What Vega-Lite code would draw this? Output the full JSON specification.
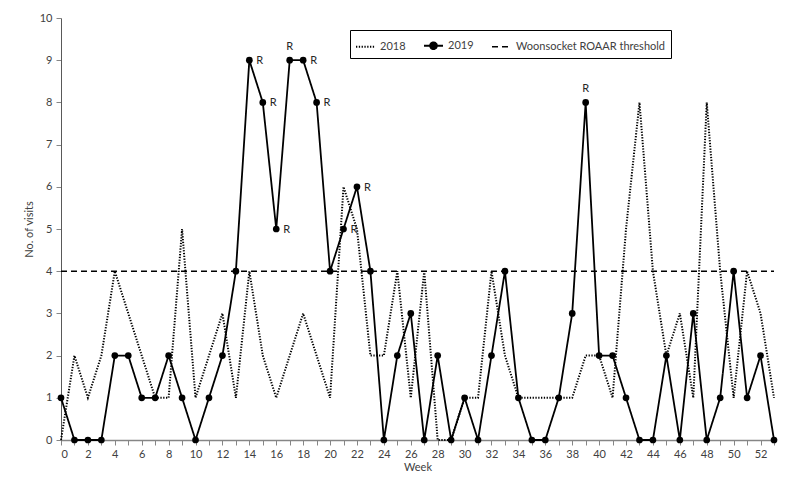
{
  "$schema": "https://vega.github.io/schema/vega-lite/v6.json",
  "width": 713,
  "height": 422,
  "autosize": "none",
  "padding": {"left": 61, "top": 18, "right": 13, "bottom": 57},
  "background": "white",
  "config": {
    "view": {"stroke": null},
    "font": "Lato",
    "axis": {"labelFont": "Lato", "titleFont": "Lato", "labelFontSize": 11, "titleFontSize": 11, "labelColor": "#404040", "titleColor": "#404040", "titleFontWeight": "normal", "grid": false, "domainColor": "#868686", "tickColor": "#868686", "tickSize": 5}
  },
  "data": {
    "values": [
      {"week": 0, "series": "2018", "visits": 0},
      {"week": 1, "series": "2018", "visits": 2},
      {"week": 2, "series": "2018", "visits": 1},
      {"week": 3, "series": "2018", "visits": 2},
      {"week": 4, "series": "2018", "visits": 4},
      {"week": 5, "series": "2018", "visits": 3},
      {"week": 6, "series": "2018", "visits": 2},
      {"week": 7, "series": "2018", "visits": 1},
      {"week": 8, "series": "2018", "visits": 1},
      {"week": 9, "series": "2018", "visits": 5},
      {"week": 10, "series": "2018", "visits": 1},
      {"week": 11, "series": "2018", "visits": 2},
      {"week": 12, "series": "2018", "visits": 3},
      {"week": 13, "series": "2018", "visits": 1},
      {"week": 14, "series": "2018", "visits": 4},
      {"week": 15, "series": "2018", "visits": 2},
      {"week": 16, "series": "2018", "visits": 1},
      {"week": 17, "series": "2018", "visits": 2},
      {"week": 18, "series": "2018", "visits": 3},
      {"week": 19, "series": "2018", "visits": 2},
      {"week": 20, "series": "2018", "visits": 1},
      {"week": 21, "series": "2018", "visits": 6},
      {"week": 22, "series": "2018", "visits": 5},
      {"week": 23, "series": "2018", "visits": 2},
      {"week": 24, "series": "2018", "visits": 2},
      {"week": 25, "series": "2018", "visits": 4},
      {"week": 26, "series": "2018", "visits": 1},
      {"week": 27, "series": "2018", "visits": 4},
      {"week": 28, "series": "2018", "visits": 0},
      {"week": 29, "series": "2018", "visits": 0},
      {"week": 30, "series": "2018", "visits": 1},
      {"week": 31, "series": "2018", "visits": 1},
      {"week": 32, "series": "2018", "visits": 4},
      {"week": 33, "series": "2018", "visits": 2},
      {"week": 34, "series": "2018", "visits": 1},
      {"week": 35, "series": "2018", "visits": 1},
      {"week": 36, "series": "2018", "visits": 1},
      {"week": 37, "series": "2018", "visits": 1},
      {"week": 38, "series": "2018", "visits": 1},
      {"week": 39, "series": "2018", "visits": 2},
      {"week": 40, "series": "2018", "visits": 2},
      {"week": 41, "series": "2018", "visits": 1},
      {"week": 42, "series": "2018", "visits": 5},
      {"week": 43, "series": "2018", "visits": 8},
      {"week": 44, "series": "2018", "visits": 4},
      {"week": 45, "series": "2018", "visits": 2},
      {"week": 46, "series": "2018", "visits": 3},
      {"week": 47, "series": "2018", "visits": 1},
      {"week": 48, "series": "2018", "visits": 8},
      {"week": 49, "series": "2018", "visits": 4},
      {"week": 50, "series": "2018", "visits": 1},
      {"week": 51, "series": "2018", "visits": 4},
      {"week": 52, "series": "2018", "visits": 3},
      {"week": 53, "series": "2018", "visits": 1},
      {"week": 0, "series": "2019", "visits": 1},
      {"week": 1, "series": "2019", "visits": 0},
      {"week": 2, "series": "2019", "visits": 0},
      {"week": 3, "series": "2019", "visits": 0},
      {"week": 4, "series": "2019", "visits": 2},
      {"week": 5, "series": "2019", "visits": 2},
      {"week": 6, "series": "2019", "visits": 1},
      {"week": 7, "series": "2019", "visits": 1},
      {"week": 8, "series": "2019", "visits": 2},
      {"week": 9, "series": "2019", "visits": 1},
      {"week": 10, "series": "2019", "visits": 0},
      {"week": 11, "series": "2019", "visits": 1},
      {"week": 12, "series": "2019", "visits": 2},
      {"week": 13, "series": "2019", "visits": 4},
      {"week": 14, "series": "2019", "visits": 9, "flag": "R"},
      {"week": 15, "series": "2019", "visits": 8, "flag": "R"},
      {"week": 16, "series": "2019", "visits": 5, "flag": "R"},
      {"week": 17, "series": "2019", "visits": 9, "flag": "R"},
      {"week": 18, "series": "2019", "visits": 9, "flag": "R"},
      {"week": 19, "series": "2019", "visits": 8, "flag": "R"},
      {"week": 20, "series": "2019", "visits": 4},
      {"week": 21, "series": "2019", "visits": 5, "flag": "R"},
      {"week": 22, "series": "2019", "visits": 6, "flag": "R"},
      {"week": 23, "series": "2019", "visits": 4},
      {"week": 24, "series": "2019", "visits": 0},
      {"week": 25, "series": "2019", "visits": 2},
      {"week": 26, "series": "2019", "visits": 3},
      {"week": 27, "series": "2019", "visits": 0},
      {"week": 28, "series": "2019", "visits": 2},
      {"week": 29, "series": "2019", "visits": 0},
      {"week": 30, "series": "2019", "visits": 1},
      {"week": 31, "series": "2019", "visits": 0},
      {"week": 32, "series": "2019", "visits": 2},
      {"week": 33, "series": "2019", "visits": 4},
      {"week": 34, "series": "2019", "visits": 1},
      {"week": 35, "series": "2019", "visits": 0},
      {"week": 36, "series": "2019", "visits": 0},
      {"week": 37, "series": "2019", "visits": 1},
      {"week": 38, "series": "2019", "visits": 3},
      {"week": 39, "series": "2019", "visits": 8, "flag": "R"},
      {"week": 40, "series": "2019", "visits": 2},
      {"week": 41, "series": "2019", "visits": 2},
      {"week": 42, "series": "2019", "visits": 1},
      {"week": 43, "series": "2019", "visits": 0},
      {"week": 44, "series": "2019", "visits": 0},
      {"week": 45, "series": "2019", "visits": 2},
      {"week": 46, "series": "2019", "visits": 0},
      {"week": 47, "series": "2019", "visits": 3},
      {"week": 48, "series": "2019", "visits": 0},
      {"week": 49, "series": "2019", "visits": 1},
      {"week": 50, "series": "2019", "visits": 4},
      {"week": 51, "series": "2019", "visits": 1},
      {"week": 52, "series": "2019", "visits": 2},
      {"week": 53, "series": "2019", "visits": 0},
      {"week": 0, "series": "Woonsocket ROAAR threshold", "visits": 4},
      {"week": 53, "series": "Woonsocket ROAAR threshold", "visits": 4}
    ]
  },
  "encoding": {
    "x": {"field": "week", "type": "quantitative", "title": "Week",
      "scale": {"domain": [0, 53], "nice": false, "zero": false},
      "axis": {"values": [0,1,2,3,4,5,6,7,8,9,10,11,12,13,14,15,16,17,18,19,20,21,22,23,24,25,26,27,28,29,30,31,32,33,34,35,36,37,38,39,40,41,42,43,44,45,46,47,48,49,50,51,52,53],
        "labelExpr": "datum.value % 2 === 0 ? datum.label : ''", "labelPadding": 3, "titlePadding": 2, "domainWidth": 1.5}},
    "y": {"field": "visits", "type": "quantitative", "title": "No. of visits",
      "scale": {"domain": [0, 10], "nice": false},
      "axis": {"values": [0,1,2,3,4,5,6,7,8,9,10], "domainColor": "#595959", "titlePadding": 5, "labelPadding": 4}}
  },
  "layer": [
    {
      "mark": {"type": "line", "color": "black"},
      "encoding": {
        "strokeWidth": {"field": "series", "type": "nominal", "legend": null,
          "scale": {"domain": ["2018", "2019", "Woonsocket ROAAR threshold"], "range": [2, 1.6, 1.8]}},
        "strokeDash": {"field": "series", "type": "nominal",
          "scale": {"domain": ["2018", "2019", "Woonsocket ROAAR threshold"], "range": [[1.3, 1.5], [1, 0], [6, 4]]},
          "legend": {"title": null, "orient": "none", "legendX": 289, "legendY": 12, "direction": "horizontal",
            "symbolType": "stroke", "symbolSize": 361, "symbolStrokeWidth": 1.6, "symbolStrokeColor": "black",
            "labelFont": "Lato", "labelFontSize": 11, "labelColor": "#404040", "labelOffset": 4, "columnPadding": 14,
            "strokeColor": "black", "padding": 5, "fillColor": "white",
            "encode": {"symbols": {"update": {
              "shape": {"signal": "datum.value === '2019' ? 'M-1,0L1,0M0.36,0A0.36,0.36,0,1,1,-0.36,0A0.36,0.36,0,1,1,0.36,0Z' : 'stroke'"},
              "fill": {"value": "black"},
              "stroke": {"value": "black"},
              "strokeWidth": {"signal": "datum.value === '2018' ? 2 : 1.6"},
              "opacity": {"value": 1},
              "strokeDash": {"signal": "datum.value === '2018' ? [1.3, 1.5] : (datum.value === '2019' ? [1, 0] : [6, 4])"}
            }}}}
        }
      }
    },
    {
      "transform": [{"filter": "datum.series === '2019'"}],
      "mark": {"type": "point", "filled": true, "color": "black", "size": 45, "opacity": 1}
    },
    {
      "transform": [{"filter": "datum.flag === 'R' && datum.week !== 17 && datum.week !== 39"}],
      "mark": {"type": "text", "align": "left", "dx": 7, "dy": 1, "font": "Lato", "fontSize": 11, "color": "#262626"},
      "encoding": {"text": {"field": "flag"}}
    },
    {
      "transform": [{"filter": "datum.flag === 'R' && (datum.week === 17 || datum.week === 39)"}],
      "mark": {"type": "text", "align": "center", "dy": -13, "font": "Lato", "fontSize": 11, "color": "#262626"},
      "encoding": {"text": {"field": "flag"}}
    }
  ]
}
